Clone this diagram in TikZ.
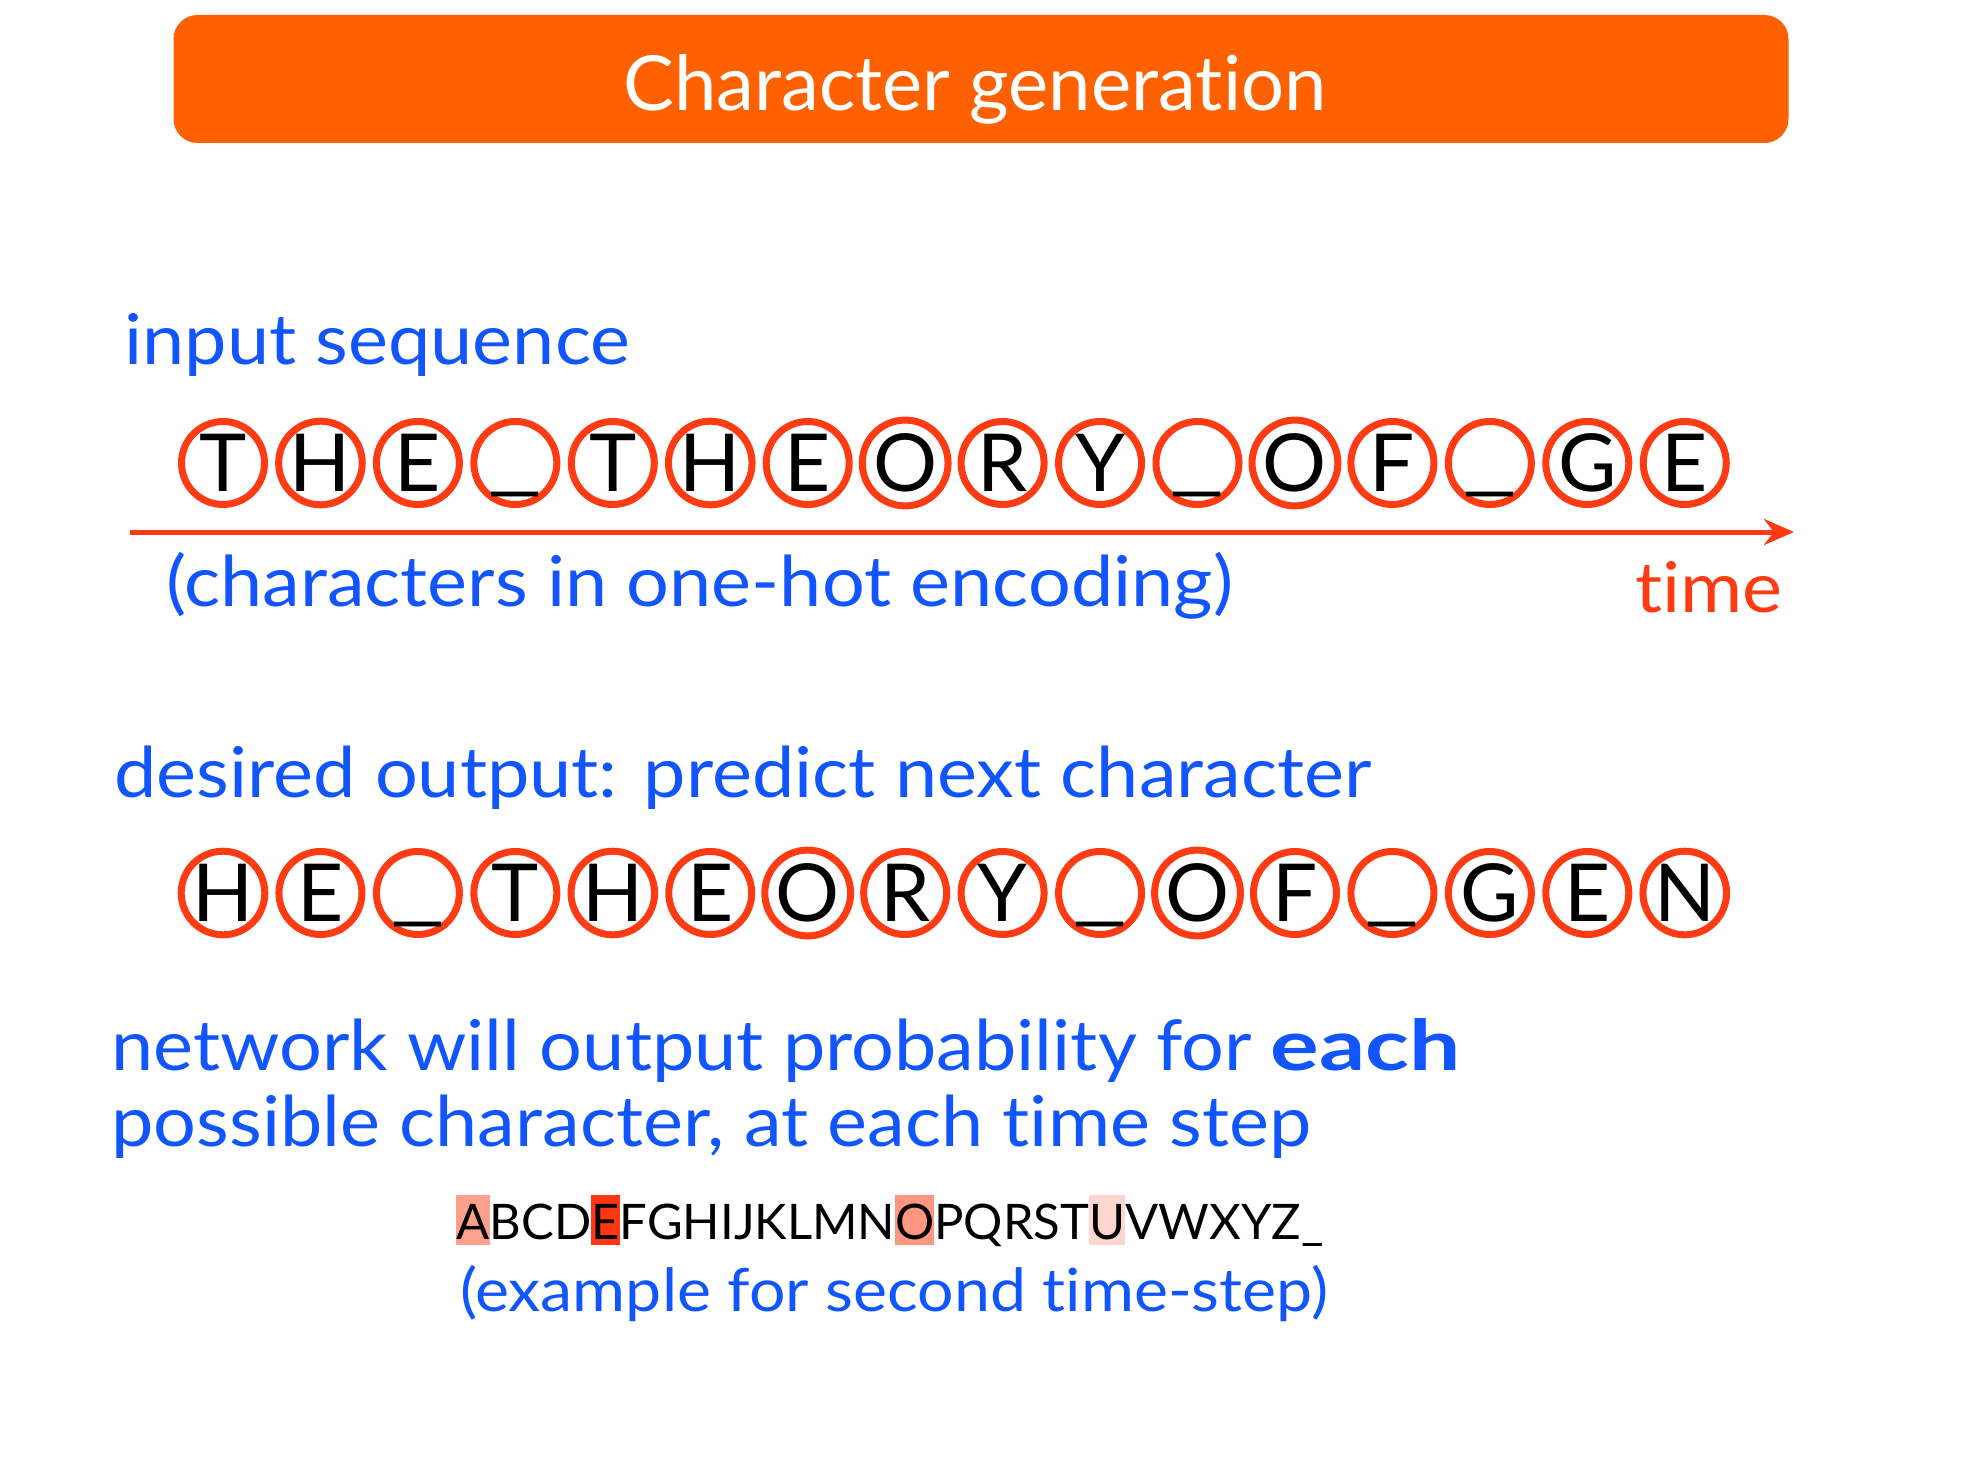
\documentclass[tikz,border=0pt]{standalone}
\usepackage{fontspec}
\setmainfont{Lato}[Ligatures=NoCommon]
\newfontfamily\bodyfont{Lato}[FakeStretch=1.08,Ligatures=NoCommon]
\newfontfamily\wideboldfont{Lato}[FakeStretch=1.3,Ligatures=NoCommon]
\usetikzlibrary{arrows.meta}
\definecolor{barorange}{RGB}{255,96,0}
\definecolor{txtblue}{RGB}{17,85,255}
\definecolor{ringred}{RGB}{255,59,20}
\definecolor{hlA}{RGB}{255,160,140}
\definecolor{hlE}{RGB}{255,55,20}
\definecolor{hlO}{RGB}{255,150,130}
\definecolor{hlU}{RGB}{255,214,206}
\newcommand{\hlbox}[2]{{\setlength{\fboxsep}{0pt}\colorbox{#1}{\rule[-3pt]{0pt}{25pt}#2}}}
\newcommand{\usc}{\raisebox{3pt}{\scalebox{1.5}[1]{\_}}}
\begin{document}
\begin{tikzpicture}[x=0.5pt,y=-0.5pt,
  ring/.style={circle,draw=ringred,line width=3.5pt,minimum size=41.5pt,inner sep=0pt,
    text height=28.5pt,text depth=0pt,font=\fontsize{40}{48}\selectfont,text=black},
  bluetxt/.style={text=txtblue,inner sep=0pt,font=\bodyfont\fontsize{35}{42}\selectfont},
]
\useasboundingbox (0,0) rectangle (1986,1476);
% title
\node[fill=barorange,rounded corners=12pt,minimum width=807.5pt,minimum height=64pt,inner sep=0pt] (bar) at (981,79) {};
\node[anchor=base,text=white,inner sep=0pt,font=\fontsize{38}{46}\selectfont] (title) at (975,111) {Character generation};
% input
\node[bluetxt,anchor=base west] (inlab) at (124,365) {input sequence};
\foreach \ch [count=\i] in {T,H,E,\usc,T,H,E,O,R,Y,\usc,O,F,\usc,G,E}{
  \node[ring] (a\i) at ({223+97.45*(\i-1)},463) {\ch};
}
\coordinate (tstart) at (130,532);
\coordinate (tend) at (1794,532);
\draw[ringred,line width=2.5pt,-{Stealth[length=15pt,width=13pt]}] (tstart) -- (tend);
\node[bluetxt,anchor=base west] (enc) at (166,606) {(characters in one-hot encoding)};
\node[bluetxt,anchor=base east,text=ringred] (time) at (1783,612) {time};
% output
\node[bluetxt,anchor=base west] (outlab) at (114,797) {desired output: predict next character};
\foreach \ch [count=\i] in {H,E,\usc,T,H,E,O,R,Y,\usc,O,F,\usc,G,E,N}{
  \node[ring] (b\i) at ({223+97.45*(\i-1)},893) {\ch};
}
\node[bluetxt,anchor=base west] (net1) at (111,1070) {network will output probability for {\wideboldfont\bfseries each}};
\node[bluetxt,anchor=base west] (net2) at (111,1146) {possible character, at each time step};
\node[anchor=base,inner sep=0pt,font=\fontsize{24.5}{29}\selectfont] (alpha) at (890,1239)
  {\hlbox{hlA}{A}BCD\hlbox{hlE}{E}FGHIJKLMN\hlbox{hlO}{O}PQRST\hlbox{hlU}{U}VWXYZ\_};
\node[bluetxt,anchor=base,font=\bodyfont\fontsize{29.8}{36}\selectfont] (ex) at (894,1311) {(example for second time-step)};
\end{tikzpicture}
\end{document}
